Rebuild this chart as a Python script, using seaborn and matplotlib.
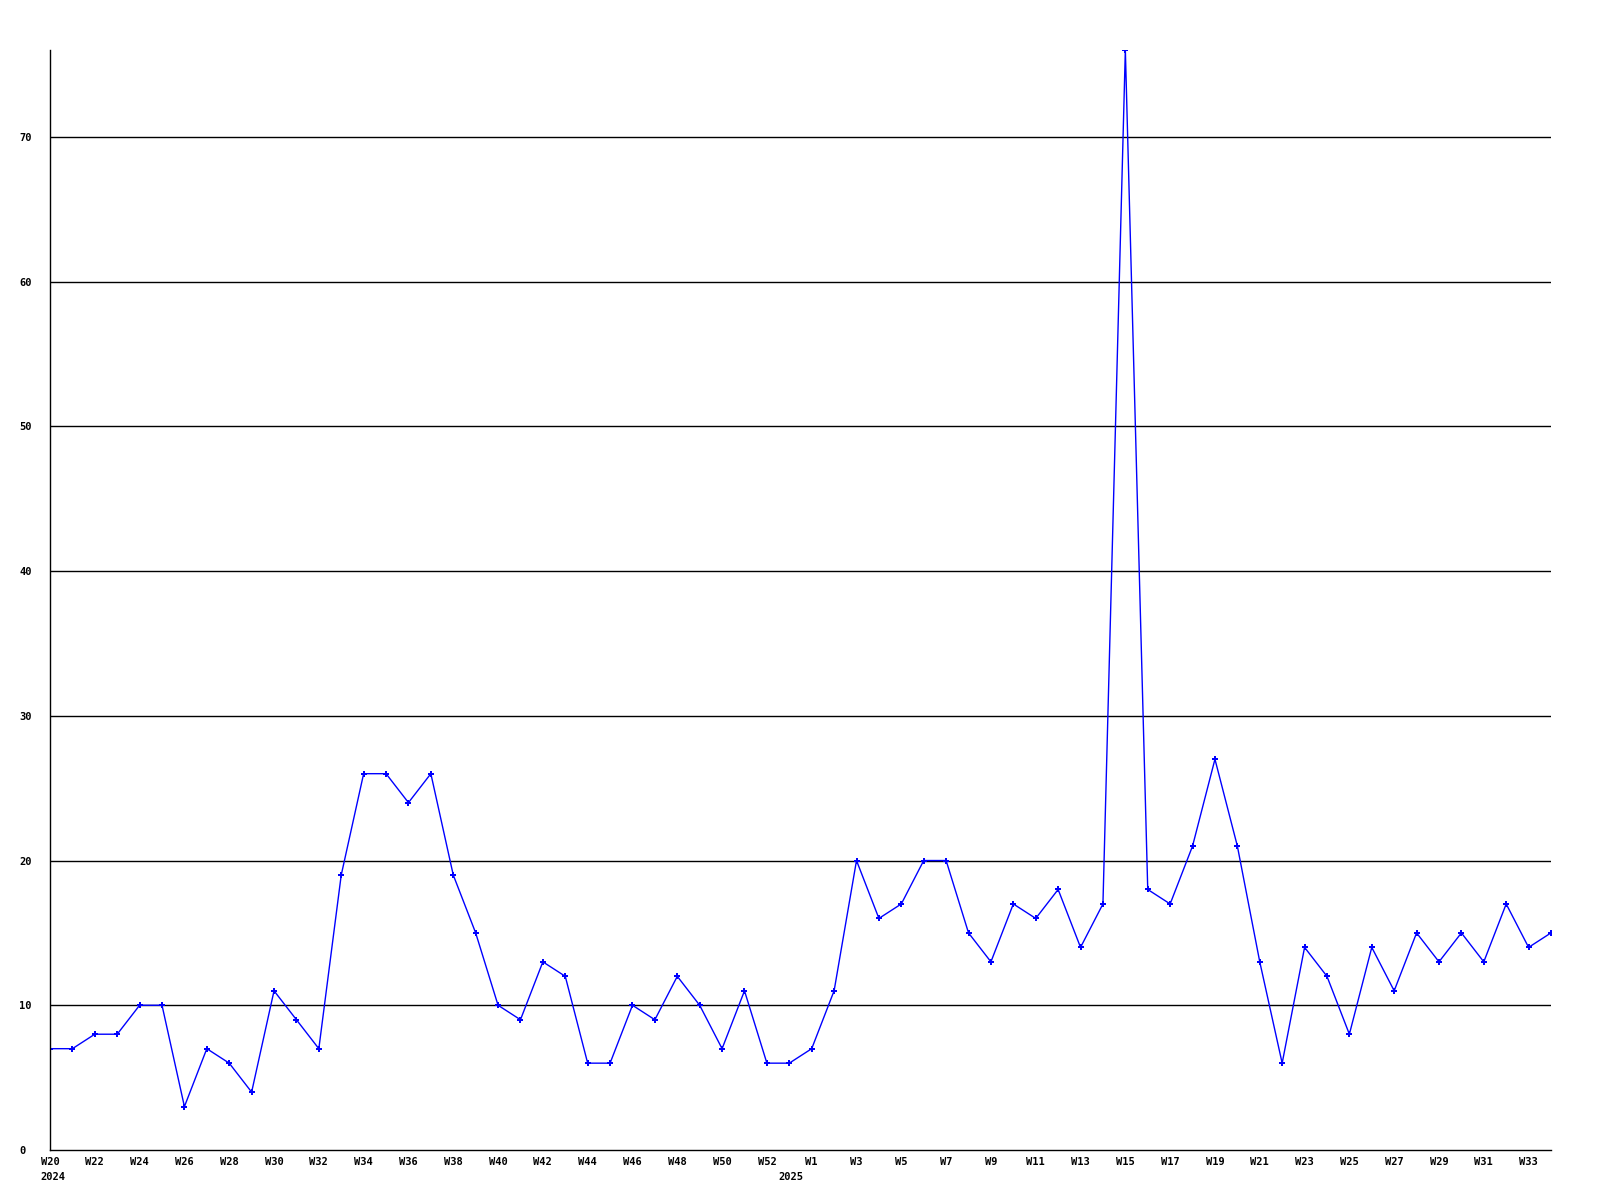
#Weekly counts from W20 2024 to W34 2025

import pandas as pd
import matplotlib
matplotlib.use("Agg")
import matplotlib.pyplot as plt
import seaborn as sns

sns.set_style("white")
plt.rcParams['font.family'] = ['DejaVu Sans Mono']
plt.rcParams['text.color'] = 'black'
plt.rcParams['xtick.color'] = 'black'
plt.rcParams['ytick.color'] = 'black'

# weekly values, 2024 W20..W52, one extra week, then 2025 W1..W34
values_2024 = [7, 7, 8, 8, 10, 10, 3, 7, 6, 4, 11, 9, 7, 19, 26, 26, 24, 26, 19,
               15, 10, 9, 13, 12, 6, 6, 10, 9, 12, 10, 7, 11, 6]
values_extra = [6]
values_2025 = [7, 11, 20, 16, 17, 20, 20, 15, 13, 17, 16, 18, 14, 17, 76, 18, 17,
               21, 27, 21, 13, 6, 14, 12, 8, 14, 11, 15, 13, 15, 13, 17, 14, 15]

tick_labels_2024 = ['W20', 'W22', 'W24', 'W26', 'W28', 'W30', 'W32', 'W34', 'W36',
                    'W38', 'W40', 'W42', 'W44', 'W46', 'W48', 'W50', 'W52']
tick_labels_2025 = ['W1', 'W3', 'W5', 'W7', 'W9', 'W11', 'W13', 'W15', 'W17', 'W19',
                    'W21', 'W23', 'W25', 'W27', 'W29', 'W31', 'W33']
y_ticks = [0, 10, 20, 30, 40, 50, 60, 70]

vals = values_2024 + values_extra + values_2025
df = pd.DataFrame({'week': range(len(vals)), 'count': vals})

n24 = len(values_2024)
start25 = n24 + len(values_extra)
tick_pos = list(range(0, n24, 2)) + list(range(start25, len(vals), 2))
tick_labels = tick_labels_2024 + tick_labels_2025

fig = plt.figure(figsize=(16, 12), dpi=100)
ax = fig.add_axes([50 / 1600, 50 / 1200, 1501 / 1600, 1100 / 1200])

sns.lineplot(data=df, x='week', y='count', ax=ax, color='#0000ff', linewidth=1,
             marker='P', markersize=5, markeredgewidth=0)

ax.set_xlim(0, len(vals) - 1)
ax.set_ylim(0, max(vals))
ax.set_yticks(y_ticks)
ax.set_yticklabels([str(t) for t in y_ticks], fontsize=7.5, fontweight='bold')
ax.set_xticks(tick_pos)
ax.set_xticklabels(tick_labels, fontsize=7.5, fontweight='bold')
for lab in ax.get_yticklabels():
    lab.set_horizontalalignment('left')
ax.tick_params(axis='y', length=0, pad=22)
ax.tick_params(axis='x', length=0, pad=5)

for y in y_ticks[1:]:
    ax.axhline(y, color='black', linewidth=1, zorder=0)

ax.set_xlabel('')
ax.set_ylabel('')
for side in ['top', 'right']:
    ax.spines[side].set_visible(False)
ax.spines['left'].set_color('black')
ax.spines['bottom'].set_color('black')
ax.spines['left'].set_linewidth(1)
ax.spines['bottom'].set_linewidth(1)

# year labels under the week labels
ax.annotate('2024', xy=(0, 0), xycoords=('data', 'axes fraction'),
            xytext=(-10, -22), textcoords='offset pixels', ha='left', va='top',
            fontsize=7.5, fontweight='bold')
ax.annotate('2025', xy=(n24, 0), xycoords=('data', 'axes fraction'),
            xytext=(-11, -22), textcoords='offset pixels', ha='left', va='top',
            fontsize=7.5, fontweight='bold')

fig.savefig('out.png', dpi=100)
